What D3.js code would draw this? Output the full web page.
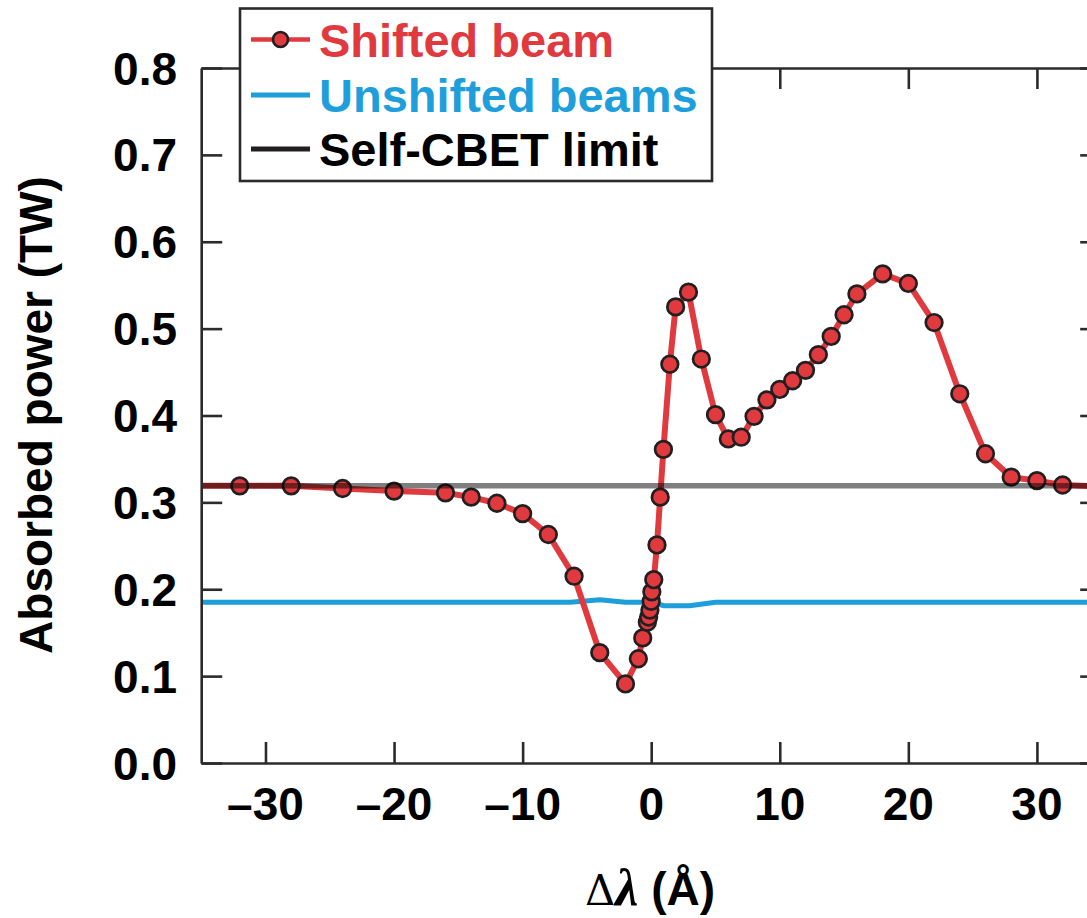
<!DOCTYPE html>
<html>
<head>
<meta charset="utf-8">
<script src="https://cdn.jsdelivr.net/npm/d3@7"></script>
<style>
  html, body { margin: 0; padding: 0; background: #fff; overflow: hidden; }
  svg { display: block; }
</style>
</head>
<body>
<svg id="chart" width="1087" height="918"></svg>
<script>
// ---- data ----
const shiftedX = [-32, -28, -24, -20, -16, -14, -12, -10, -8, -6, -4, -2, -1, -0.66, -0.3, -0.2, -0.1, 0, 0.05, 0.2, 0.45, 0.7, 0.95, 1.45, 1.9, 2.9, 3.9, 5, 6, 7, 8, 9, 10, 11, 12, 13, 14, 15, 16, 18, 20, 22, 24, 26, 28, 30, 32];
const shiftedY = [0.319, 0.319, 0.316, 0.313, 0.311, 0.306, 0.299, 0.287, 0.263, 0.215, 0.127, 0.091, 0.120, 0.144, 0.162, 0.168, 0.176, 0.186, 0.197, 0.211, 0.251, 0.306, 0.361, 0.459, 0.525, 0.542, 0.465, 0.401, 0.373, 0.375, 0.399, 0.418, 0.430, 0.440, 0.452, 0.470, 0.491, 0.516, 0.540, 0.563, 0.552, 0.507, 0.425, 0.356, 0.329, 0.325, 0.320];
// unmarked line continuation at the plot edges
const shiftedEdgeX = [-35, 35];
const shiftedEdgeY = [0.319, 0.318];

const unshiftedX = [-35, -6.3, -4, -2, 0, 1, 3, 5, 35];
const unshiftedY = [0.185, 0.185, 0.188, 0.185, 0.185, 0.181, 0.181, 0.185, 0.185];

const limitValue = 0.319;

const xTicks = [-30, -20, -10, 0, 10, 20, 30];
const yTicks = [0, 0.1, 0.2, 0.3, 0.4, 0.5, 0.6, 0.7, 0.8];

const legendLabels = ["Shifted beam", "Unshifted beams", "Self-CBET limit"];
const yTitle = "Absorbed power (TW)";

(function () {
// ---- layout ----
const svg = d3.select("#chart");
const pLeft = 201.2, pRight = 1101.2, pTop = 68, pBottom = 763;
const x = d3.scaleLinear().domain([-35, 35]).range([pLeft, pRight]);
const y = d3.scaleLinear().domain([0, 0.8]).range([pBottom, pTop]);

const RED = "#e03a3f", BLUE = "#1e9fdb", DARK = "#2b2b2b";
const FONT = "'Liberation Sans', Arial, Helvetica, sans-serif";

// ---- series ----
const shiftedPts = shiftedX.map((v, i) => [v, shiftedY[i]]);
const shiftedLine = [[shiftedEdgeX[0], shiftedEdgeY[0]], ...shiftedPts, [shiftedEdgeX[1], shiftedEdgeY[1]]];
const unshiftedPts = unshiftedX.map((v, i) => [v, unshiftedY[i]]);

const line = d3.line().x(d => x(d[0])).y(d => y(d[1]));

svg.append("path").datum(unshiftedPts)
  .attr("d", line).attr("fill", "none")
  .attr("stroke", BLUE).attr("stroke-width", 5).attr("stroke-linejoin", "round");

svg.append("path").datum(shiftedLine)
  .attr("d", line).attr("fill", "none")
  .attr("stroke", RED).attr("stroke-width", 6).attr("stroke-linejoin", "round");

svg.selectAll("circle.pt").data(shiftedPts).enter().append("circle")
  .attr("class", "pt")
  .attr("cx", d => x(d[0])).attr("cy", d => y(d[1]))
  .attr("r", 8.3)
  .attr("fill", RED).attr("stroke", "#231f20").attr("stroke-width", 2.7);

// self-CBET limit (semi-transparent over data)
svg.append("line")
  .attr("x1", x(-35)).attr("x2", x(35))
  .attr("y1", y(limitValue)).attr("y2", y(limitValue))
  .attr("stroke", "#000").attr("stroke-opacity", 0.5).attr("stroke-width", 5.5);

// ---- axes frame ----
const tickLen = 21;
const axisG = svg.append("g");
const bottomAxis = d3.axisBottom(x).tickValues(xTicks).tickSizeInner(-tickLen).tickSizeOuter(0).tickFormat("");
const topAxis = d3.axisTop(x).tickValues(xTicks).tickSizeInner(-tickLen).tickSizeOuter(0).tickFormat("");
const leftAxis = d3.axisLeft(y).tickValues(yTicks).tickSizeInner(-tickLen).tickSizeOuter(0).tickFormat("");
const rightAxis = d3.axisRight(y).tickValues(yTicks).tickSizeInner(-tickLen).tickSizeOuter(0).tickFormat("");

function styleAxis(g) {
  g.selectAll("path, line").attr("stroke", DARK).attr("stroke-width", 2.6);
}
axisG.append("g").attr("transform", `translate(0,${pBottom})`).call(bottomAxis).call(styleAxis);
axisG.append("g").attr("transform", `translate(0,${pTop})`).call(topAxis).call(styleAxis);
axisG.append("g").attr("transform", `translate(${pLeft},0)`).call(leftAxis).call(styleAxis);
axisG.append("g").attr("transform", `translate(${pRight},0)`).call(rightAxis).call(styleAxis);

// tick labels
svg.selectAll("text.xt").data(xTicks).enter().append("text")
  .attr("class", "xt")
  .attr("x", d => x(d)).attr("y", 820)
  .attr("text-anchor", "middle")
  .attr("font-family", FONT).attr("font-weight", "bold").attr("font-size", 46)
  .attr("fill", "#000")
  .text(d => d < 0 ? "\u2013" + Math.abs(d) : String(d));

svg.selectAll("text.yt").data(yTicks).enter().append("text")
  .attr("class", "yt")
  .attr("x", 177).attr("y", d => y(d))
  .attr("dy", "0.36em")
  .attr("text-anchor", "end")
  .attr("font-family", FONT).attr("font-weight", "bold").attr("font-size", 46)
  .attr("fill", "#000")
  .text(d => d.toFixed(1));

// axis titles
svg.append("text")
  .attr("transform", `translate(52,415) rotate(-90)`)
  .attr("text-anchor", "middle")
  .attr("font-family", FONT).attr("font-weight", "bold").attr("font-size", 46)
  .attr("fill", "#000")
  .text(yTitle);

const xt = svg.append("text")
  .attr("x", 650).attr("y", 905)
  .attr("text-anchor", "middle")
  .attr("font-size", 46).attr("fill", "#000");
xt.append("tspan").attr("font-family", "'DejaVu Serif', 'Liberation Serif', serif").attr("font-size", 42).text("\u0394");
xt.append("tspan").attr("font-family", "'Liberation Serif', 'DejaVu Serif', serif").attr("font-style", "italic").attr("font-weight", "bold").attr("font-size", 52).text("\u03BB");
xt.append("tspan").attr("font-family", FONT).attr("font-weight", "bold").text(" (\u00C5)");

// ---- legend ----
const lg = svg.append("g");
lg.append("rect").attr("x", 240).attr("y", 8.5).attr("width", 472).attr("height", 172.5)
  .attr("fill", "#fff").attr("stroke", DARK).attr("stroke-width", 2.6);
const legendColors = [RED, BLUE, "#231f20"];
const legendTextColors = [RED, BLUE, "#000"];
const rowY = [39.5, 95, 149];
legendLabels.forEach((lab, i) => {
  lg.append("line").attr("x1", 251).attr("x2", 310).attr("y1", rowY[i]).attr("y2", rowY[i])
    .attr("stroke", legendColors[i]).attr("stroke-width", i === 0 ? 4.5 : 5);
  if (i === 0) {
    lg.append("circle").attr("cx", 280.5).attr("cy", rowY[i]).attr("r", 7.5)
      .attr("fill", RED).attr("stroke", "#231f20").attr("stroke-width", 2.6);
  }
  lg.append("text").attr("x", 319).attr("y", rowY[i] + 17)
    .attr("font-family", FONT).attr("font-weight", "bold").attr("font-size", 47)
    .attr("fill", legendTextColors[i]).text(lab);
});
})();
</script>
</body>
</html>
